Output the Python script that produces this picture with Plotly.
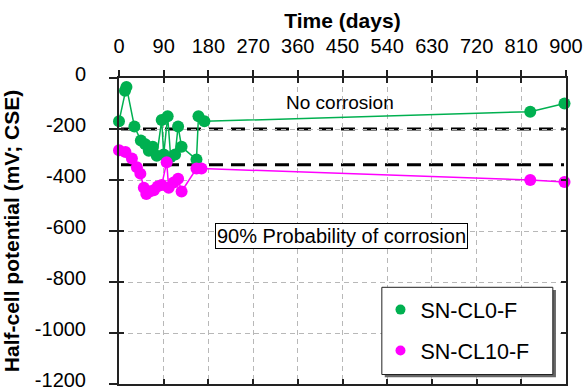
import plotly.graph_objects as go

# ---- data ----
days_cl0 = [0, 12, 15, 31, 44, 53, 60, 68, 76, 86, 90, 98, 104, 113, 119, 126, 156, 160, 172, 828, 897]
hcp_cl0 = [-170, -50, -35, -190, -245, -260, -285, -270, -305, -165, -300, -150, -310, -300, -190, -270, -320, -150, -170, -132, -100]

days_cl10 = [0, 13, 26, 36, 43, 50, 55, 62, 70, 78, 86, 96, 100, 110, 119, 126, 156, 166, 828, 897]
hcp_cl10 = [-283, -290, -316, -350, -375, -430, -455, -445, -440, -425, -420, -330, -430, -410, -395, -445, -355, -355, -400, -408]

x_ticks = [0, 90, 180, 270, 360, 450, 540, 630, 720, 810, 900]
y_ticks = [0, -200, -400, -600, -800, -1000, -1200]
thresholds = [-200, -340]

GREEN = "#00B050"
MAGENTA = "#FF00FF"
FONT = "Liberation Sans, Arial, sans-serif"
AX = "#222222"

fig = go.Figure()
fig.add_trace(go.Scatter(x=days_cl0, y=hcp_cl0, mode="lines+markers", name="SN-CL0-F",
                         line=dict(color=GREEN, width=1.5), marker=dict(color=GREEN, size=12),
                         cliponaxis=False, showlegend=False))
fig.add_trace(go.Scatter(x=days_cl10, y=hcp_cl10, mode="lines+markers", name="SN-CL10-F",
                         line=dict(color=MAGENTA, width=1.5), marker=dict(color=MAGENTA, size=12),
                         cliponaxis=False, showlegend=False))
# legend-only entries (markers only)
fig.add_trace(go.Scatter(x=[None], y=[None], mode="markers", name="SN-CL0-F",
                         marker=dict(color=GREEN, size=10), legendgroup="a"))
fig.add_trace(go.Scatter(x=[None], y=[None], mode="markers", name="SN-CL10-F",
                         marker=dict(color=MAGENTA, size=10), legendgroup="b"))
# helper traces so the overlay (tick-only) axes are drawn
fig.add_trace(go.Scatter(x=[None], y=[None], xaxis="x2", yaxis="y2", showlegend=False, hoverinfo="skip"))
fig.add_trace(go.Scatter(x=[None], y=[None], xaxis="x3", yaxis="y3", showlegend=False, hoverinfo="skip"))

for t in thresholds:
    fig.add_shape(type="line", xref="x", yref="y", x0=4, x1=896, y0=t, y1=t,
                  line=dict(color="black", width=3, dash="14px,8px"), layer="below")

# legend box with shadow
fig.add_shape(type="rect", xref="paper", yref="paper", x0=0.5945, x1=0.9775, y0=0.022, y1=0.307,
              line=dict(width=0), fillcolor="#666666", layer="above")
fig.add_shape(type="rect", xref="paper", yref="paper", x0=0.588, x1=0.9705, y0=0.031, y1=0.316,
              line=dict(width=1, color=AX), fillcolor="white", layer="above")

fig.add_annotation(x=445, y=-98, xref="x", yref="y", text="No corrosion", showarrow=False,
                   font=dict(family=FONT, size=19, color="black"))
fig.add_annotation(x=447, y=-620, xref="x", yref="y", text="90% Probability of corrosion", showarrow=False,
                   font=dict(family=FONT, size=20, color="black"), bordercolor="black", borderwidth=1,
                   borderpad=1, bgcolor="white")

grid = dict(showgrid=True, gridcolor="#b8b8b8", griddash="5px,4px", gridwidth=1)
common = dict(showline=True, linecolor=AX, linewidth=2, tickcolor=AX, tickwidth=1.5,
              zeroline=False, automargin=False)

fig.update_layout(
    width=583, height=391,
    margin=dict(l=119, r=17, t=78, b=7),
    paper_bgcolor="white", plot_bgcolor="white",
    font=dict(family=FONT, size=20, color="black"),
    showlegend=True,
    legend=dict(x=0.585, y=0.31, xanchor="left", yanchor="top", bgcolor="rgba(0,0,0,0)",
                borderwidth=0, font=dict(family=FONT, size=21.5, color="black"),
                tracegroupgap=10, traceorder="grouped", itemwidth=30),
    xaxis=dict(side="top", range=[0, 900], tickvals=x_ticks, ticktext=[str(v) for v in x_ticks],
               ticks="outside", ticklen=6, ticklabelstandoff=9, tickfont=dict(size=20),
               ticklabeloverflow="allow",
               title=dict(text="<b>Time (days)</b>", font=dict(size=21), standoff=1),
               **grid, **common),
    yaxis=dict(range=[-1200, 0], tickvals=y_ticks, ticktext=[str(v) for v in y_ticks],
               ticks="outside", ticklen=8, ticklabelstandoff=19, ticklabelshift=-4, tickfont=dict(size=20),
               ticklabeloverflow="allow",
               title=dict(text="<b>Half-cell potential (mV; CSE)</b>", font=dict(size=21), standoff=10),
               **grid, **common),
    xaxis2=dict(overlaying="x", anchor="y2", side="top", range=[0, 900], tickvals=x_ticks,
                showticklabels=False, ticks="inside", ticklen=5, showgrid=False, **common),
    yaxis2=dict(overlaying="y", anchor="x2", side="left", range=[-1200, 0], tickvals=y_ticks,
                showticklabels=False, ticks="inside", ticklen=5, showgrid=False, **common),
    xaxis3=dict(overlaying="x", anchor="y3", side="bottom", range=[0, 900], tickvals=x_ticks,
                showticklabels=False, ticks="inside", ticklen=5, showgrid=False, **common),
    yaxis3=dict(overlaying="y", anchor="x3", side="right", range=[-1200, 0], tickvals=y_ticks,
                showticklabels=False, ticks="inside", ticklen=5, showgrid=False, **common),
)

fig.write_html("out.html", config={"displayModeBar": False},
               post_script="document.body.style.margin='0';document.body.style.overflow='hidden';")
